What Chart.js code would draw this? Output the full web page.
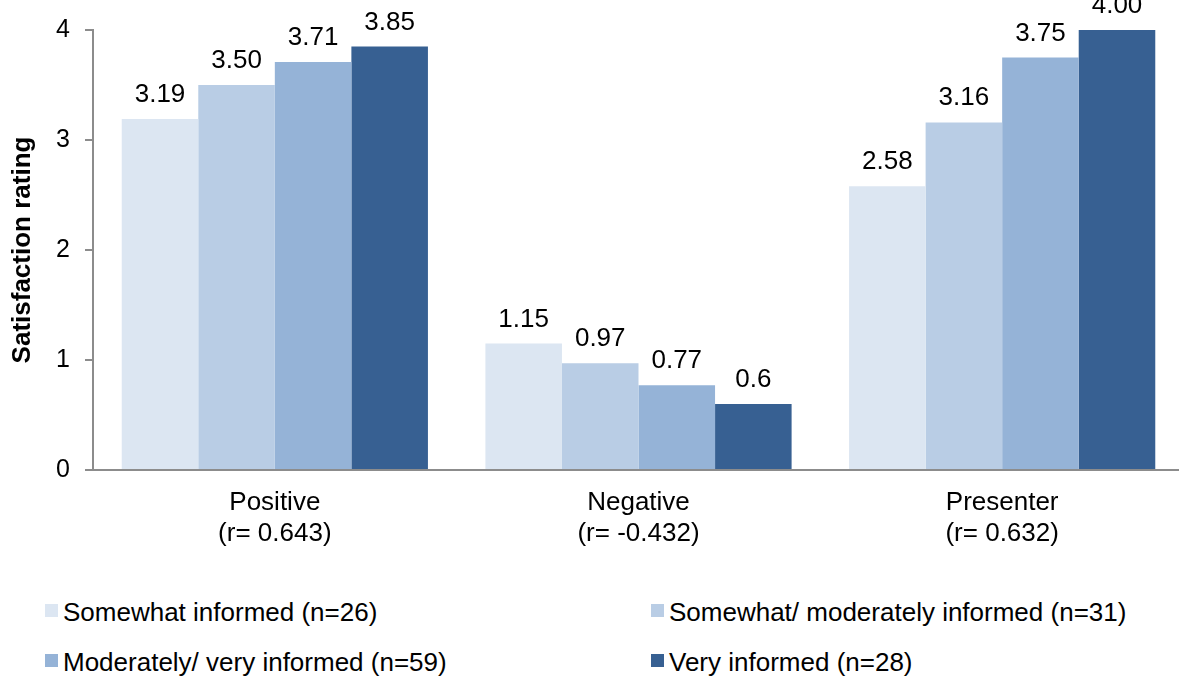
<!DOCTYPE html>
<html>
<head>
<meta charset="utf-8">
<script src="https://cdn.jsdelivr.net/npm/chart.js@4.4.0/dist/chart.umd.min.js"></script>
<style>
  body { margin: 0; background: #fff; overflow: hidden; width: 1179px; height: 677px; position: relative; font-family: "Liberation Sans", Arial, sans-serif; }
  #wrap { position: absolute; left: 0; top: 0; width: 1190px; height: 580px; }
  .leg { position: absolute; font-size: 26px; color: #000; white-space: nowrap; line-height: 26px; }
  .leg span { display: inline-block; width: 13px; height: 13px; margin-right: 5px; vertical-align: 4px; }
</style>
</head>
<body>
<div id="wrap"><canvas id="myChart" width="1190" height="580"></canvas></div>
<div id="legend"></div>
<script>
// data
const categories = [["Positive", "(r= 0.643)"], ["Negative", "(r= -0.432)"], ["Presenter", "(r= 0.632)"]];
const seriesNames = [
  "Somewhat informed (n=26)",
  "Somewhat/ moderately informed (n=31)",
  "Moderately/ very informed (n=59)",
  "Very informed (n=28)"
];
const somewhatInformed = ["3.19", "1.15", "2.58"];
const somewhatModerately = ["3.50", "0.97", "3.16"];
const moderatelyVery = ["3.71", "0.77", "3.75"];
const veryInformed = ["3.85", "0.6", "4.00"];
const yTicks = [0, 1, 2, 3, 4];
const colors = ["#DCE6F2", "#B9CDE5", "#95B3D7", "#376092"];

const allSeries = [somewhatInformed, somewhatModerately, moderatelyVery, veryInformed];
const FONT = '"Liberation Sans", Arial, sans-serif';

// draw the numbers above each bar
const valueLabels = {
  id: "valueLabels",
  afterDatasetsDraw(chart) {
    const ctx = chart.ctx;
    ctx.save();
    ctx.font = "26px " + FONT;
    ctx.fillStyle = "#000";
    ctx.textAlign = "center";
    ctx.textBaseline = "alphabetic";
    chart.data.datasets.forEach((ds, i) => {
      chart.getDatasetMeta(i).data.forEach((bar, j) => {
        ctx.fillText(allSeries[i][j], bar.x, bar.y - 17);
      });
    });
    ctx.restore();
  }
};

const ctx = document.getElementById("myChart").getContext("2d");
const myChart = new Chart(ctx, {
  type: "bar",
  data: {
    labels: categories,
    datasets: allSeries.map((s, i) => ({
      label: seriesNames[i],
      data: s.map(Number),
      backgroundColor: colors[i],
      borderWidth: 0,
      categoryPercentage: 0.842,
      barPercentage: 1
    }))
  },
  options: {
    responsive: false,
    animation: false,
    layout: { padding: { top: 29, right: 6, left: 0, bottom: 0 } },
    plugins: { legend: { display: false }, tooltip: { enabled: false } },
    scales: {
      x: {
        grid: { display: false },
        border: { color: "#8c8c8c", width: 2 },
        ticks: { color: "#000", font: { family: FONT, size: 26, lineHeight: 1.2 }, padding: 9, maxRotation: 0 },
        afterFit: (s) => { s.height = 110; }
      },
      y: {
        min: yTicks[0],
        max: yTicks[yTicks.length - 1],
        afterBuildTicks: (s) => { s.ticks = yTicks.map((v) => ({ value: v })); },
        grid: { drawOnChartArea: false, drawTicks: true, tickLength: 8, color: "#8c8c8c", lineWidth: 2 },
        border: { color: "#8c8c8c", width: 2 },
        ticks: { color: "#000", font: { family: FONT, size: 25 }, padding: 15 },
        title: {
          display: true,
          text: "Satisfaction rating",
          color: "#000",
          font: { family: FONT, size: 26, weight: "bold" },
          padding: { top: 7, bottom: 0 }
        },
        afterFit: (s) => { s.width = 93; }
      }
    }
  },
  plugins: [valueLabels]
});

// legend in two columns under the chart
const legendPos = [[45, 599], [651, 599], [45, 649], [651, 649]];
const legend = document.getElementById("legend");
seriesNames.forEach((name, i) => {
  const d = document.createElement("div");
  d.className = "leg";
  d.style.left = legendPos[i][0] + "px";
  d.style.top = legendPos[i][1] + "px";
  d.innerHTML = `<span style="background:${colors[i]}"></span>${name}`;
  legend.appendChild(d);
});
</script>
</body>
</html>
